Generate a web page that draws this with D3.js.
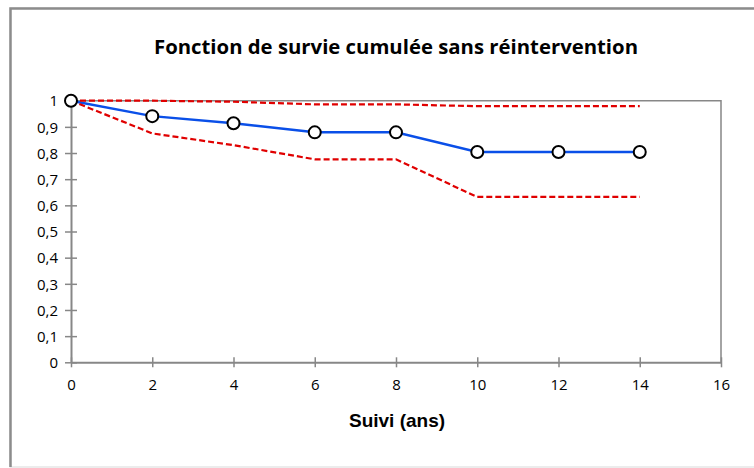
<!DOCTYPE html>
<html>
<head>
<meta charset="utf-8">
<title>Fonction de survie</title>
<script src="https://cdn.jsdelivr.net/npm/d3@7"></script>
<style>
  body { margin: 0; background: #fff; }
</style>
</head>
<body>
<script>
// survival follow-up data (years)
var years = [0, 2, 4, 6, 8, 10, 12, 14];
var survie = [1, 0.941, 0.914, 0.879, 0.879, 0.804, 0.804, 0.804];
var borneSup = [1, 1, 0.996, 0.986, 0.986, 0.979, 0.979, 0.979];
var borneInf = [1, 0.875, 0.830, 0.776, 0.776, 0.632, 0.632, 0.632];
var xTicks = [0, 2, 4, 6, 8, 10, 12, 14, 16];
var yTicks = [0, 0.1, 0.2, 0.3, 0.4, 0.5, 0.6, 0.7, 0.8, 0.9, 1];

var W = 754, H = 468;
var grey = "#878787";

var svg = d3.select("body").append("svg").attr("width", W).attr("height", H);

// outer chart frame
svg.append("rect").attr("x", 10).attr("y", 8).attr("width", 760).attr("height", 459)
  .attr("fill", "#fff").attr("stroke", "#d9d9d9").attr("stroke-width", 1);
svg.append("path").attr("d", "M10.5,467V8.5H760")
  .attr("fill", "none").attr("stroke", "#8c8c8c").attr("stroke-width", 2.5);

var x = d3.scaleLinear().domain([0, 16]).range([71, 721]);
var y = d3.scaleLinear().domain([0, 1]).range([362.3, 100.7]);

// plot area top/right border
svg.append("path")
  .attr("d", "M" + x(0) + "," + y(1) + "H" + x(16) + "V" + y(0))
  .attr("fill", "none").attr("stroke", grey).attr("stroke-width", 1.5);

var fmt = function(d) { return d3.format(".1~f")(d).replace(".", ","); };

var gx = svg.append("g").attr("transform", "translate(0," + y(0) + ")")
  .call(d3.axisBottom(x).tickValues(xTicks).tickSize(0).tickPadding(17));
gx.select(".domain").attr("stroke", grey).attr("stroke-width", 2);
gx.selectAll(".tick line").attr("y1", -5).attr("y2", 5).attr("stroke", grey).attr("stroke-width", 1.5);

var gy = svg.append("g").attr("transform", "translate(" + x(0) + ",0)")
  .call(d3.axisLeft(y).tickValues(yTicks).tickFormat(fmt).tickSize(0).tickPadding(13));
gy.select(".domain").attr("stroke", grey).attr("stroke-width", 2);
gy.selectAll(".tick line").attr("x1", -6).attr("x2", 6).attr("stroke", grey).attr("stroke-width", 1.5);
gy.selectAll(".tick text").attr("dy", "0.35em");

svg.selectAll(".tick text")
  .style("font-family", "'Open Sans', 'Noto Sans', sans-serif")
  .style("font-size", "15px").attr("fill", "#000");

var line = d3.line().x(function(d) { return x(d[0]); }).y(function(d) { return y(d[1]); });

svg.append("path").datum(d3.zip(years, survie)).attr("d", line)
  .attr("fill", "none").attr("stroke", "#0a4fe8").attr("stroke-width", 2.5);

[borneSup, borneInf].forEach(function(b) {
  svg.append("path").datum(d3.zip(years, b)).attr("d", line)
    .attr("fill", "none").attr("stroke", "#e00000").attr("stroke-width", 2.2)
    .attr("stroke-dasharray", "6,3");
});

svg.selectAll("circle.pt").data(d3.zip(years, survie)).enter().append("circle")
  .attr("class", "pt")
  .attr("cx", function(d) { return x(d[0]); })
  .attr("cy", function(d) { return y(d[1]); })
  .attr("r", 6).attr("fill", "#fff").attr("stroke", "#000").attr("stroke-width", 2);

svg.append("text").attr("x", 396).attr("y", 54).attr("text-anchor", "middle")
  .attr("textLength", 484).attr("lengthAdjust", "spacingAndGlyphs")
  .style("font-family", "'Open Sans', sans-serif").style("font-weight", "bold").style("font-size", "19px")
  .text("Fonction de survie cumulée sans réintervention");

svg.append("text").attr("x", 397).attr("y", 427).attr("text-anchor", "middle")
  .style("font-family", "'Liberation Sans', Arial, sans-serif").style("font-weight", "bold").style("font-size", "19px")
  .text("Suivi (ans)");
</script>
</body>
</html>
